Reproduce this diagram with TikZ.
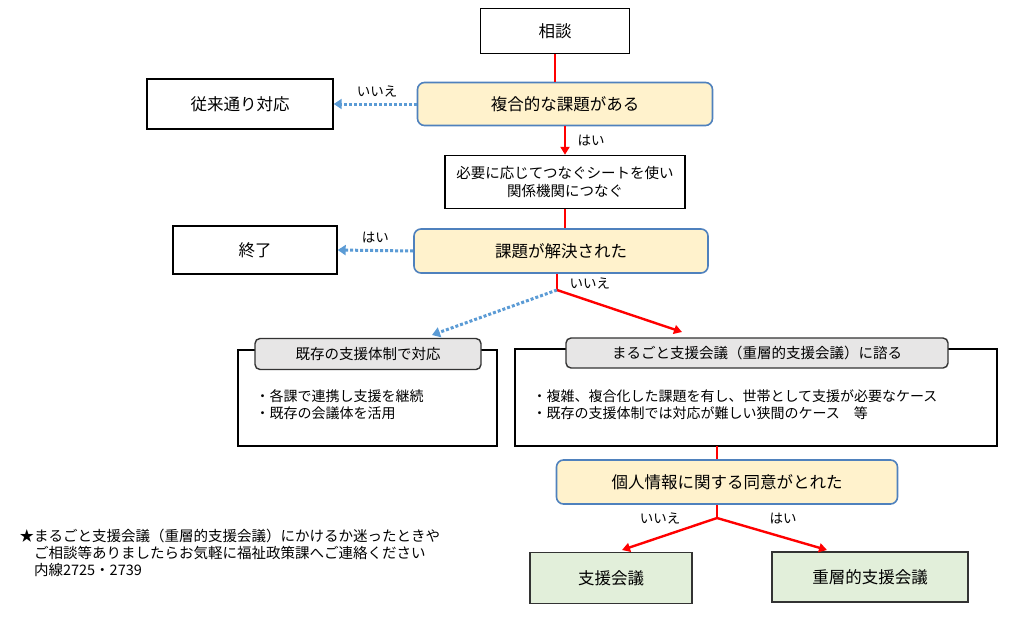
\documentclass[tikz,border=0pt]{standalone}
\usepackage{fontspec}
\setmainfont{Noto Sans CJK JP}
\usepackage{tikz}
\usetikzlibrary{arrows.meta,positioning}

\definecolor{qyellow}{HTML}{FFF2CC}
\definecolor{qblue}{HTML}{4F81BD}
\definecolor{qgray}{HTML}{E7E6E6}
\definecolor{qgreen}{HTML}{E2EFDA}
\definecolor{qdot}{HTML}{5B9BD5}

\tikzset{
  plain/.style={draw=black, line width=1.4pt, fill=white, font=\fontsize{16.5}{19}\selectfont},
  ask/.style={draw=qblue, line width=1.6pt, rounded corners=7pt, fill=qyellow, font=\fontsize{16.5}{19}\selectfont},
  head/.style={draw=black!80, line width=1.4pt, rounded corners=5pt, fill=qgray, font=\fontsize{14.5}{17}\selectfont},
  final/.style={draw=black!80, line width=1.6pt, fill=qgreen, font=\fontsize{16.5}{19}\selectfont},
  yes/.style={red, line width=2.4pt, -{Triangle[length=8pt,width=9pt]}},
  link/.style={red, line width=2.4pt},
  no/.style={qdot, line width=3pt, dotted, -{Triangle[length=8pt,width=10pt]}},
  lab/.style={font=\fontsize{13.5}{16}\selectfont},
}

\begin{document}
\begin{tikzpicture}[x=1pt, y=-1pt]
\useasboundingbox (0,0) rectangle (1016,616);
% question chain
\node[plain, minimum width=149, minimum height=45] (soudan) at (555,31) {相談};
\node[ask, minimum width=295, minimum height=43] (fukugou) at (565,104) {複合的な課題がある};
\node[plain, minimum width=186, minimum height=50] (juurai) at (240,104) {従来通り対応};
\node[plain, minimum width=240, minimum height=53, align=center,
      font=\fontsize{14.5}{18}\selectfont] (sheet) at (565,182) {必要に応じてつなぐシートを使い\\関係機関につなぐ};
\node[ask, minimum width=294, minimum height=44] (kaiketsu) at (561,251) {課題が解決された};
\node[plain, minimum width=164, minimum height=48] (shuuryou) at (255,250) {終了};
\coordinate (split1) at (557,290);

% two big boxes with headers
\draw[line width=1.4pt] (238,350) rectangle (497,446);
\node[head, minimum width=226, minimum height=31] (kizon) at (368,354) {既存の支援体制で対応};
\node[anchor=west, align=left, font=\fontsize{14}{17}\selectfont] (kizonlist) at (252,405)
  {・各課で連携し支援を継続\\・既存の会議体を活用};
\draw[line width=1.4pt] (515,349) rectangle (997,446);
\coordinate (rbottom) at (717,446);
\node[head, minimum width=382, minimum height=30] (marugoto) at (757,353) {まるごと支援会議（重層的支援会議）に諮る};
\node[anchor=west, align=left, font=\fontsize{14}{17}\selectfont] (marugotolist) at (529,405)
  {・複雑、複合化した課題を有し、世帯として支援が必要なケース\\・既存の支援体制では対応が難しい狭間のケース　等};

\node[ask, minimum width=341, minimum height=44] (doui) at (727,482) {個人情報に関する同意がとれた};
\coordinate (split2) at (717,518);
\node[final, minimum width=162, minimum height=51] (shien) at (611,578) {支援会議};
\node[final, minimum width=196, minimum height=50] (juusou) at (870,577) {重層的支援会議};

% connectors
\draw[link] (soudan.south) -- (soudan.south |- fukugou.north);
\draw[no] (fukugou.west) -- (juurai.east) node[lab, midway, above=2pt, xshift=2pt, black] {いいえ};
\draw[yes] (fukugou.south -| sheet.north) -- (sheet.north) node[lab, midway, right=8pt, black] {はい};
\draw[link] (sheet.south) -- (sheet.south |- kaiketsu.north);
\draw[no] (kaiketsu.west) -- (shuuryou.east) node[lab, midway, above=3pt, black] {はい};
\draw[link] (kaiketsu.south -| split1) -- (split1) node[lab, right=8pt, pos=0.6, black] {いいえ};
\draw[no] (split1) -- (432,335);
\draw[yes] (split1) -- (682,332);
\draw[link] (rbottom) -- (rbottom |- doui.north);
\draw[link] (doui.south -| split2) -- (split2);
\draw[yes] (split2) -- (622,550) node[lab, pos=0.6, above=9pt, black] {いいえ};
\draw[yes] (split2) -- (827,550) node[lab, pos=0.6, above=9pt, black] {はい};

% note
\node[anchor=north west, align=left, font=\fontsize{14.5}{17}\selectfont] (note) at (16,526)
  {★まるごと支援会議（重層的支援会議）にかけるか迷ったときや\\
   \hspace*{1em}ご相談等ありましたらお気軽に福祉政策課へご連絡ください\\
   \hspace*{1em}内線2725・2739};
\end{tikzpicture}
\end{document}
